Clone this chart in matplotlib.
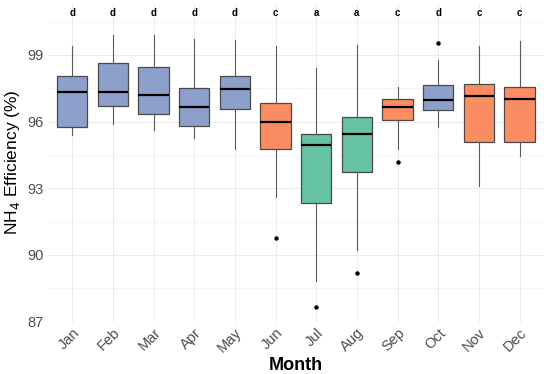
import numpy as np
import matplotlib.pyplot as plt
from matplotlib.ticker import MultipleLocator

plt.rcParams['font.family'] = ['Liberation Sans', 'DejaVu Sans']

# monthly NH4 removal efficiency, box stats
months = ['Jan', 'Feb', 'Mar', 'Apr', 'May', 'Jun',
          'Jul', 'Aug', 'Sep', 'Oct', 'Nov', 'Dec']
whislo = [95.38, 95.89, 95.61, 95.25, 94.78, 92.62, 88.83, 90.22, 94.75, 95.74, 93.09, 94.47]
q1 = [95.74, 96.70, 96.34, 95.78, 96.57, 94.77, 92.35, 93.72, 96.09, 96.53, 95.07, 95.07]
med = [97.31, 97.33, 97.21, 96.65, 97.46, 95.98, 94.95, 95.43, 96.64, 96.98, 97.16, 97.01]
q3 = [98.04, 98.63, 98.45, 97.53, 98.04, 96.82, 95.43, 96.21, 97.01, 97.65, 97.67, 97.57]
whishi = [99.42, 99.90, 99.90, 99.72, 99.67, 99.42, 98.43, 99.45, 97.55, 98.78, 99.42, 99.64]
outliers = [[], [], [], [], [], [90.78], [87.67], [89.18], [94.16], [99.54], [], []]
letters = ['d', 'd', 'd', 'd', 'd', 'c', 'a', 'a', 'c', 'd', 'c', 'c']

colors = {'a': '#66C2A5', 'c': '#FC8D62', 'd': '#8DA0CB'}

stats = []
for i in range(len(months)):
    stats.append({'whislo': whislo[i], 'q1': q1[i], 'med': med[i],
                  'q3': q3[i], 'whishi': whishi[i], 'fliers': outliers[i]})

fig = plt.figure(figsize=(5.5, 3.74), dpi=100)
ax = fig.add_axes([0.087, 0.140, 0.902, 0.850])

pos = np.arange(1, len(months) + 1)
bp = ax.bxp(stats, positions=pos, widths=0.75, patch_artist=True, showcaps=False,
            boxprops=dict(edgecolor='#4a4a4a', linewidth=0.9),
            medianprops=dict(color='black', linewidth=1.6),
            whiskerprops=dict(color='#5a5a5a', linewidth=0.8),
            flierprops=dict(marker='o', markersize=2.2, markerfacecolor='black',
                            markeredgecolor='black'))
for patch, let in zip(bp['boxes'], letters):
    patch.set_facecolor(colors[let])
    patch.set_zorder(2)

# significance letters above each month
for x, let in zip(pos, letters):
    ax.text(x, 100.88, let, ha='center', va='center', fontsize=7, fontweight='bold')

ax.set_xlim(0.4, 12.6)
ax.set_ylim(87, 101.3)
ax.set_yticks([87, 90, 93, 96, 99])
ax.yaxis.set_minor_locator(MultipleLocator(1.5))
ax.set_xticks(pos)
ax.set_xticklabels(months, rotation=45, ha='right', rotation_mode='anchor')

ax.grid(True, which='major', color='#ebebeb', linewidth=0.7)
ax.grid(True, which='minor', axis='y', color='#f3f3f3', linewidth=0.5)
ax.set_axisbelow(True)
for s in ax.spines.values():
    s.set_visible(False)
ax.tick_params(which='both', length=0, labelsize=10.5, colors='#4d4d4d', pad=3)

ax.set_xlabel('Month', fontsize=13, fontweight='bold', labelpad=1)
ax.set_ylabel('NH$_4$ Efficiency (%)', fontsize=12.5, labelpad=4)

fig.savefig('out.png', dpi=100)
